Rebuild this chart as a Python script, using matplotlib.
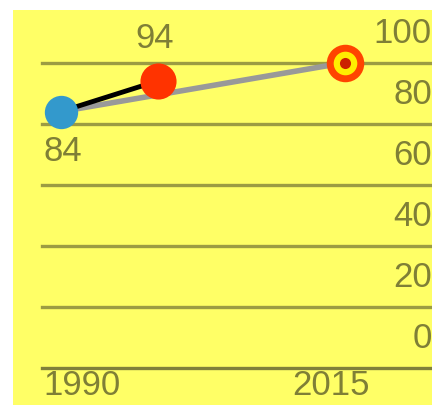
import matplotlib
matplotlib.use("Agg")
import matplotlib.pyplot as plt
import matplotlib.transforms as mtransforms
from matplotlib.patches import Rectangle

# Data
years = [1990, 1998.5]
values = [84, 94]
target_year = 2015
target_value = 100
y_ticks = [0, 20, 40, 60, 80, 100]
x_tick_years = [1990, 2015]
x_tick_labels = ["1990", "2015"]

W, H = 432, 405
fig = plt.figure(figsize=(W / 100, H / 100), dpi=100)
fig.patch.set_facecolor("white")
bg = Rectangle((13 / W, 0), 1 - 13 / W, 1 - 10 / H,
               transform=fig.transFigure, facecolor="#ffff66",
               edgecolor="none", zorder=-10)
fig.add_artist(bg)

left, right = 42 / W, 1.0
bottom, top = (H - 368) / H, (H - 62.7) / H
ax = fig.add_axes([left, bottom, right - left, top - bottom])
ax.set_zorder(1)
ax.set_facecolor("none")
ax.set_xlim(1988.33, 2022.66)
ax.set_ylim(0, 100)
for s in ax.spines.values():
    s.set_visible(False)
ax.set_yticks([])
ax.tick_params(axis="x", length=0, pad=1)

font = "Liberation Sans"
txt_color = "#7f7f36"
fs = 25

for v in y_ticks:
    ax.axhline(v, color="#80803a" if v == 0 else "#9c9c42", lw=2.4,
               zorder=1, clip_on=False)
    ax.annotate(str(v), xy=(1.0, v), xycoords=("axes fraction", "data"),
                xytext=(0, 9), textcoords="offset points",
                ha="right", va="bottom", fontsize=fs, family=font,
                color=txt_color, annotation_clip=False)

# target path (gray) and progress line (black)
ax.plot([years[0], target_year], [values[0], target_value],
        color="#999999", lw=4, zorder=2, solid_capstyle="butt")
ax.plot(years, values, color="black", lw=3.5, zorder=3)

ax.plot(years[0], values[0], "o", ms=24, color="#3399cc", mec="none",
        zorder=4, clip_on=False)
ax.plot(years[1], values[1], "o", ms=26, color="#ff3300", mec="none",
        zorder=4, clip_on=False)
# bullseye target marker
ax.plot(target_year, target_value, "o", ms=27, color="#ff4400", mec="none",
        zorder=4, clip_on=False)
ax.plot(target_year, target_value, "o", ms=17, color="#ffee00", mec="none",
        zorder=5, clip_on=False)
ax.plot(target_year, target_value, "o", ms=8, color="#cc2200", mec="none",
        zorder=6, clip_on=False)

ax.annotate(str(values[1]), xy=(years[1], values[1]), xytext=(-2, 19),
            textcoords="offset points", ha="center", va="bottom",
            fontsize=fs, family=font, color=txt_color)
ax.annotate(str(values[0]), xy=(years[0], values[0]), xytext=(1, -17),
            textcoords="offset points", ha="center", va="top",
            fontsize=fs, family=font, color=txt_color)

ax.set_xticks(x_tick_years)
ax.set_xticklabels(x_tick_labels, fontsize=fs, family=font, color=txt_color)
offsets = [15, -10]
for lab, dx in zip(ax.get_xticklabels(), offsets):
    lab.set_transform(lab.get_transform() +
                      mtransforms.ScaledTranslation(dx / 72, 0, fig.dpi_scale_trans))

fig.savefig("out.png", dpi=100, facecolor=fig.get_facecolor())
